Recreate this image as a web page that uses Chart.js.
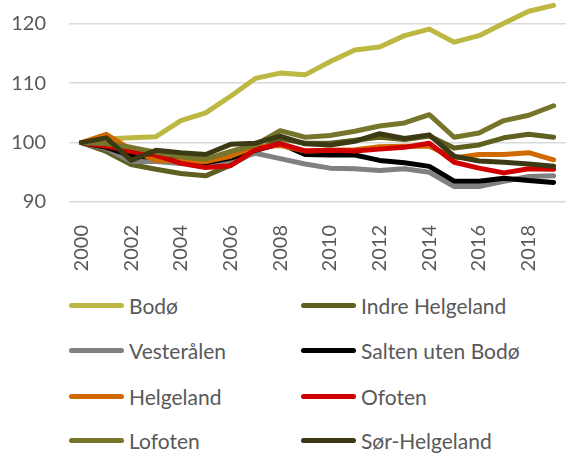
<!DOCTYPE html>
<html>
<head>
<meta charset="utf-8">
<script src="https://cdn.jsdelivr.net/npm/chart.js@4/dist/chart.umd.min.js"></script>
<style>
  body { margin: 0; background: #fff; font-family: Lato, sans-serif; }
  #wrap { position: relative; width: 566px; height: 453px; }
  #chartBox { position: absolute; left: 0; top: 0; width: 566px; height: 280px; }
  #legend { position: absolute; left: 0; top: 283px; width: 566px; }
  .item { position: absolute; height: 26px; display: flex; align-items: center; color: #595959; font-size: 21px; white-space: nowrap; }
  .swatch { width: 55px; height: 5px; border-radius: 3px; margin-right: 5px; }
</style>
</head>
<body>
<div id="wrap">
  <div id="chartBox"><canvas id="myChart" width="566" height="280"></canvas></div>
  <div id="legend"></div>
</div>
<script>
const years = ['2000', '2001', '2002', '2003', '2004', '2005', '2006', '2007', '2008', '2009',
               '2010', '2011', '2012', '2013', '2014', '2015', '2016', '2017', '2018', '2019'];
const yTicks = [90, 100, 110, 120];

const seriesNames = ['Bodø', 'Indre Helgeland', 'Vesterålen', 'Salten uten Bodø',
                     'Helgeland', 'Ofoten', 'Lofoten', 'Sør-Helgeland'];
const seriesColors = ['#bdb842', '#5f5f1f', '#808080', '#000000',
                      '#d06a00', '#d00000', '#76752b', '#3b3a14'];

const bodo = [100, 100.6, 100.8, 101.0, 103.7, 105.0, 107.8, 110.8, 111.7, 111.4, 113.6, 115.6, 116.1, 118.0, 119.1, 116.9, 118.0, 120.1, 122.1, 123.1];
const indreHelgeland = [100, 98.5, 96.3, 95.5, 94.8, 94.4, 96.2, 98.5, 100.7, 99.9, 99.9, 100.4, 100.9, 100.5, 101.1, 99.1, 99.6, 100.8, 101.4, 100.9];
const vesteralen = [100, 99.0, 96.8, 96.8, 96.5, 96.4, 97.0, 98.2, 97.3, 96.4, 95.7, 95.6, 95.3, 95.6, 95.0, 92.6, 92.6, 93.5, 94.3, 94.4];
const salten = [100, 99.2, 97.8, 97.5, 97.0, 96.6, 97.4, 98.7, 99.8, 98.0, 97.9, 97.9, 97.0, 96.6, 96.0, 93.5, 93.5, 94.0, 93.6, 93.3];
const helgeland = [100, 101.4, 98.8, 97.0, 96.9, 96.8, 97.7, 99.3, 99.5, 98.6, 98.7, 98.8, 99.3, 99.4, 99.4, 97.4, 98.0, 98.0, 98.3, 97.1];
const ofoten = [100, 99.4, 98.5, 97.9, 96.5, 95.8, 96.1, 98.8, 99.8, 98.6, 98.7, 98.6, 98.9, 99.2, 99.9, 96.7, 95.7, 94.9, 95.6, 95.5];
const lofoten = [100, 99.8, 99.2, 98.4, 97.6, 97.2, 98.5, 99.6, 102.0, 100.9, 101.2, 101.9, 102.8, 103.3, 104.7, 100.9, 101.6, 103.7, 104.6, 106.2];
const sorHelgeland = [100, 100.8, 97.0, 98.7, 98.3, 98.0, 99.7, 99.9, 101.1, 99.8, 99.6, 100.2, 101.5, 100.7, 101.3, 97.7, 96.9, 96.7, 96.4, 96.0];

const seriesValues = [bodo, indreHelgeland, vesteralen, salten, helgeland, ofoten, lofoten, sorHelgeland];

// later series drawn on top, like the original
const datasets = seriesNames.map((name, i) => ({
    label: name,
    data: seriesValues[i],
    borderColor: seriesColors[i],
    backgroundColor: seriesColors[i],
    borderWidth: 5,
    pointRadius: 0,
    tension: 0,
    borderJoinStyle: 'round',
    borderCapStyle: 'round',
    order: seriesNames.length - i
}));

const ctx = document.getElementById('myChart').getContext('2d');
const myChart = new Chart(ctx, {
    type: 'line',
    data: { labels: years, datasets: datasets },
    options: {
        responsive: false,
        animation: false,
        layout: { padding: 0 },
        plugins: { legend: { display: false }, tooltip: { enabled: false } },
        scales: {
            x: {
                offset: true,
                grid: { display: false },
                border: { display: false },
                afterFit: function (scale) {
                    scale.height = 78;
                    scale.paddingLeft = 0;
                    scale.paddingRight = 0;
                },
                ticks: {
                    autoSkip: false,
                    minRotation: 90,
                    maxRotation: 90,
                    padding: 15,
                    color: '#595959',
                    font: { family: 'Lato', size: 20 },
                    callback: function (value, index) {
                        return index % 2 === 0 ? years[index] : '';
                    }
                }
            },
            y: {
                min: 90,
                max: 124,
                afterFit: function (scale) {
                    scale.width = 69;
                    scale.paddingTop = 0;
                    scale.paddingBottom = 0;
                },
                afterBuildTicks: function (scale) {
                    scale.ticks = yTicks.map(v => ({ value: v }));
                },
                grid: { color: '#d9d9d9', lineWidth: 1.5, drawTicks: false },
                border: { display: false },
                ticks: {
                    padding: 23,
                    color: '#595959',
                    font: { family: 'Lato', size: 20 }
                }
            }
        }
    }
});

// legend in two columns
const legendDiv = document.getElementById('legend');
const colX = [69, 301];
const rowY = [22, 67, 113, 157];
seriesNames.forEach((name, i) => {
    const item = document.createElement('div');
    item.className = 'item';
    item.style.left = colX[i % 2] + 'px';
    item.style.top = (rowY[Math.floor(i / 2)] - 13) + 'px';
    const sw = document.createElement('div');
    sw.className = 'swatch';
    sw.style.background = seriesColors[i];
    const txt = document.createElement('span');
    txt.textContent = name;
    item.appendChild(sw);
    item.appendChild(txt);
    legendDiv.appendChild(item);
});
</script>
</body>
</html>
